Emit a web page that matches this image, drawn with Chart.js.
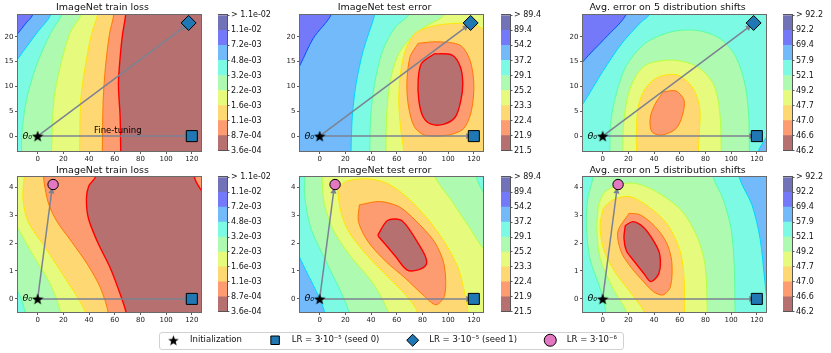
<!DOCTYPE html>
<html>
<head>
<meta charset="utf-8">
<script src="https://cdn.jsdelivr.net/npm/chart.js@4.4.1/dist/chart.umd.min.js"></script>
<style>
  html, body { margin: 0; padding: 0; background: #fff; width: 831px; height: 353px; overflow: hidden; position: relative; }
  canvas { position: absolute; }
  #legendFrame { position: absolute; left: 159px; top: 332px; width: 463px; height: 16px; border: 1px solid #d2d2d2; border-radius: 3px; }
</style>
</head>
<body>
<div id="legendFrame"></div>
<script>
// ---- axis ticks ----
const xTicks = [0, 20, 40, 60, 80, 100, 120];
const yTicksTop = [0, 5, 10, 15, 20];
const yTicksBottom = [0, 1, 2, 3, 4];
const xRange = [-15.3, 127.3];
const yRangeTop = [-3.0, 24.4];
const yRangeBottom = [-0.47, 4.37];

// ---- colorbar levels (bottom -> top) ----
const lossLevels = ['3.6e-04', '8.7e-04', '1.1e-03', '1.6e-03', '2.2e-03', '3.2e-03', '4.8e-03', '7.2e-03', '1.1e-02', '> 1.1e-02'];
const testLevels = ['21.5', '21.9', '22.4', '23.3', '25.2', '29.1', '37.2', '54.2', '89.4', '> 89.4'];
const shiftLevels = ['46.2', '46.6', '47.0', '47.7', '49.2', '52.1', '57.9', '69.4', '92.2', '> 92.2'];

// ---- marker positions ----
const initPoint = [0, 0];
const seed0Point = [120, 0];
const seed1Point = [117.5, 22.8];
const lowLrPoint = [12, 4.1];
const seed0Tip = [115.5, 0];
const seed1Tip = [113.5, 21.9];
const lowLrTip = [10.9, 3.85];

// ---- contour regions: [band, boundary line, x,y pairs] ----
const topLoss = [
  [0, -1, [-40,-8, 150,-8, 150,30, -40,30]],
  [1, 0, [65,-8, 64.7,-3, 64.2,3.9, 62.9,10.6, 64.7,17.3, 66.2,20.7, 68.5,24.4, 70,30, -40,30, -40,-8]],
  [2, 1, [50,-8, 50.3,-3, 51,7.2, 52.8,14, 56,20.7, 59.2,24.4, 61,30, -40,30, -40,-8]],
  [3, 2, [32.5,-8, 32.7,-3, 33.5,7.2, 37,14, 42,20.7, 46.6,24.4, 50,30, -40,30, -40,-8]],
  [4, 3, [10,-8, 10.8,-3, 12.6,7.2, 17.6,14, 25,20.7, 33.7,24.4, 40,30, -40,30, -40,-8]],
  [5, 4, [-13,-8, -12.5,-3, -12.3,0.5, -8.8,7.2, -1.3,14, 10,20.7, 18.6,24.4, 25,30, -40,30, -40,-8]],
  [6, 5, [-25,12, -15.3,15.6, -8,18.2, 0,21, 10.1,24.4, 15,30, -40,30]],
  [7, 6, [-25,17.5, -15.3,20.7, -9,22.8, -4,24.4, 0,30, -40,30]]
];
const topTest = [
  [6, -1, [-40,-8, 150,-8, 150,30, -40,30]],
  [7, 6, [-25,10, -15.3,14.3, -5,19.7, 8.8,24.4, 14,30, -40,30]],
  [5, 5, [24,-8, 24.4,-3, 25.4,3.9, 28.4,10.6, 34,17.3, 42.8,24.4, 47,30, 150,30, 150,-8]],
  [4, 4, [38.5,-8, 39,-3, 39.7,3.9, 42.8,10.6, 49.1,17.3, 59.1,22, 69.2,24.4, 76,30, 150,30, 150,-8]],
  [3, 3, [51,-8, 51.6,-3, 52.1,3.9, 54.6,10.6, 60.4,16, 69.2,19.3, 81.8,22, 96.9,24.4, 105,30, 150,30, 150,-8]],
  [2, 2, [66,-8, 65.4,-3, 62.9,1.9, 61.6,7.2, 62.9,12.6, 66.7,17.3, 74.2,20.7, 86.8,22.1, 104.4,22.7, 119.5,22.6, 127.3,21.6, 140,20, 150,-8]],
  [1, 1, [76.7,18.7, 91.8,19, 109.4,18.3, 117,15.3, 120,10.6, 118.2,5.2, 112,1.5, 99.4,0.2, 81.8,0.2, 73.7,1.9, 69.2,5.9, 67.9,10.6, 70.4,16]],
  [0, 0, [89.3,16.6, 103.1,16.3, 109.4,14, 111.4,10.6, 109.9,7.2, 105.7,3.9, 96.9,2.4, 86.8,2.4, 80.5,3.9, 77.2,7.2, 76.7,11.3, 79.2,14.6]]
];
const topShift = [
  [5, -1, [-40,-8, 150,-8, 150,30, -40,30]],
  [6, 5, [-25,3, -15.3,6.5, 0,13, 15,18.7, 30,23, 36,24.4, 40,30, -40,30]],
  [7, 6, [-25,11, -15.3,15, 1.8,19.7, 18.1,24.4, 24,30, -40,30]],
  [6, 5, [118,-8, 121.3,-3, 127.3,-0.3, 140,5, 150,-8]],
  [4, 4, [5,-8, 5.6,-3, 6,1.9, 9.3,7.2, 18.1,14, 33.2,18.7, 53.3,21, 73.5,21.3, 91.1,19.7, 103.6,16, 111.2,9.9, 113.7,3.9, 114.2,-3, 114.5,-8]],
  [3, 3, [15.5,-8, 15.8,-3, 16.1,1.9, 19.4,7.9, 26.2,12.3, 35.7,14.6, 55.8,15.3, 73.5,14, 86,10.6, 91,5.2, 92.3,-3, 92.5,-8]],
  [2, 2, [28,-8, 26.5,-3, 26.2,0.5, 27.7,5.9, 33.2,9.6, 43.3,11.9, 58.4,12.3, 69.7,9.9, 75.5,5.9, 75.2,0.5, 74.5,-3, 74,-8]],
  [1, 1, [47,8.9, 57.1,9.1, 63.4,7.2, 62.1,4.2, 57.1,1.5, 45.8,0.2, 38.2,0.9, 37,3.6, 40.3,6.2]]
];
const botLoss = [
  [0, -1, [-40,-1.5, 150,-1.5, 150,5.5, -40,5.5]],
  [1, 0, [119,5.5, 122,4.37, 127.3,3.9, 140,3.2, 150,5.5]],
  [1, 0, [70,-1.5, 69.2,-0.57, 65.4,0.02, 56.6,1.1, 46.5,2.05, 39.5,2.89, 38,3.6, 39.8,4.05, 45,4.37, 50,5.5, -40,5.5, -40,-1.5]],
  [2, 1, [56,-1.5, 55.3,-0.57, 49,0.38, 39,1.22, 26.4,2.05, 15.1,2.77, 8.8,3.37, 5.8,3.96, 4.5,4.44, 4,5.5, -40,5.5, -40,-1.5]],
  [3, 2, [38.5,-1.5, 37.7,-0.57, 31.4,0.02, 21.4,0.74, 6.3,1.81, -7.5,2.77, -11.5,3.6, -10.5,4.37, -9.5,5.5, -40,5.5, -40,-1.5]],
  [4, 3, [18,-1.5, 17.6,-0.45, 8.8,0.62, -3.8,1.58, -15.3,2.53, -25,3.3, -40,-1.5]],
  [5, 4, [-9.5,-1.5, -10,-0.45, -15.3,0.26, -25,0.9, -40,-1.5]]
];
const botTest = [
  [5, -1, [-40,-1.5, 150,-1.5, 150,5.5, -40,5.5]],
  [6, 5, [-25,2.5, -15.3,1.46, 3.8,-0.45, 5,-1.5, -40,-1.5]],
  [4, 4, [-11,5.5, -11.5,4.37, -11.8,3.72, -6.8,2.53, 6.3,1.22, 17.6,0.14, 23.4,-0.57, 24,-1.5, 150,-1.5, 150,3, 135,3.5, 127.3,3.84, 122,4.37, 120,5.5]],
  [3, 3, [1.3,5.5, 2,4.2, 3.8,3.37, 11.3,2.41, 25.2,1.46, 41.5,0.56, 54.1,-0.57, 55,-1.5, 150,-1.5, 150,1.2, 129.6,1.7, 117,2.53, 103.1,3.49, 90,4.37, 84.3,5.5]],
  [2, 2, [13.8,3.96, 21.4,4.23, 39,4.3, 54.1,4.11, 71.7,3.49, 91.8,2.41, 106.9,1.22, 113.2,0.14, 115.7,-0.57, 116,-1.5, 76,-1.5, 76.7,-0.57, 69.2,0.02, 54.1,0.74, 36.5,1.58, 22.6,2.41, 16.4,3.13]],
  [1, 1, [30.9,3.37, 46.5,3.49, 61.6,3.31, 74.2,2.83, 89.3,2.05, 96.9,1.22, 97.4,0.14, 90.6,-0.21, 80.5,0.14, 66.7,0.74, 51.6,1.34, 37.7,2.05, 30.2,2.77]],
  [0, 0, [45.3,2.29, 52.8,2.81, 62.9,2.83, 69.2,2.53, 76.7,1.99, 82.3,1.52, 83,1.24, 76.7,1.04, 67.9,1.04, 59.1,1.52, 51.6,1.93, 46,2.23]]
];
const botShift = [
  [5, -1, [-40,-1.5, 150,-1.5, 150,5.5, -40,5.5]],
  [6, 5, [104,5.5, 106.2,4.37, 116.2,3.37, 122.5,2.17, 126.3,0.62, 128.5,-0.2, 135,-1.5, 150,-1.5, 150,5.5]],
  [4, 4, [-7,5.5, -7.5,4.37, -11.6,3.6, -12.6,2.65, -10,1.46, -2,0.38, 3,-0.57, 3.5,-1.5, 103.5,-1.5, 103.1,-0.57, 102.4,1.22, 99.9,2.53, 93.6,3.6, 86,4.37, 83.5,5.5]],
  [3, 3, [-3.3,3.37, 1.8,3.84, 14.3,4.11, 25.7,4.14, 40.8,3.87, 60.9,3.19, 73.5,2.23, 79.7,1.22, 81.5,-0.57, 82,-1.5, 19,-1.5, 19.4,-0.57, 8,0.38, -2,1.46, -4.5,2.53]],
  [2, 2, [0.5,3.25, 8,3.55, 20.6,3.67, 35.7,3.31, 50.8,2.65, 60.4,1.7, 63.4,0.74, 63.9,-0.57, 64,-1.5, 33,-1.5, 33.2,-0.57, 23.1,0.14, 9.3,0.98, 0.5,1.81, -2,2.65]],
  [1, 1, [20.6,3.07, 29.4,3.01, 40.8,2.59, 49.6,2.03, 53.8,1.34, 52.8,0.44, 47,0.14, 39.5,0.26, 29.4,0.74, 20.6,1.22, 14.3,1.7, 11.8,2.41]],
  [0, 0, [17.6,2.63, 23.6,2.77, 31.9,2.56, 40.3,2.03, 44.5,1.58, 43.8,0.92, 37.7,0.62, 31.9,0.92, 24.4,1.36, 18.6,1.72, 16.6,2.17]]
];

// ---- styles ----
const FONT = 'DejaVu Sans';
const bandColors = ['#b77070', '#fc9c70', '#fed873', '#e6fa7e', '#aefab0', '#7cfae4', '#72baf9', '#7479f9', '#7272b8'];
const lineColors = ['#ff0000', '#ff7800', '#ffe600', '#b4ff46', '#5cffa0', '#00d4ff', '#0050ff', '#0000c8'];
const arrowColor = '#7b8292';
const colLeft = [18, 300, 583];
const cbLeft = [218, 501, 783];
const rowTop = [15, 177];
const rowH = [136, 135];
const plotW = 189;

Chart.defaults.font.family = FONT;

function makeCanvas(l, t, w, h) {
  const c = document.createElement('canvas');
  c.width = w; c.height = h;
  c.style.left = l + 'px'; c.style.top = t + 'px';
  c.style.width = w + 'px'; c.style.height = h + 'px';
  document.body.appendChild(c);
  return c;
}

// filled black star, like the matplotlib '*' marker
function starImage(size) {
  const c = document.createElement('canvas');
  c.width = c.height = size;
  const g = c.getContext('2d');
  const R = size / 2, r = R * 0.42;
  g.beginPath();
  for (let i = 0; i < 10; i++) {
    const a = -Math.PI / 2 + i * Math.PI / 5;
    const rr = i % 2 ? r : R;
    g.lineTo(R + rr * Math.cos(a), R + 0.6 + rr * Math.sin(a));
  }
  g.closePath();
  g.fillStyle = '#000';
  g.fill();
  return c;
}

function arrowAngle(c) {
  const d = c.dataset.data, xs = c.chart.scales.x, ys = c.chart.scales.y;
  const dx = xs.getPixelForValue(d[1].x) - xs.getPixelForValue(d[0].x);
  const dy = ys.getPixelForValue(d[1].y) - ys.getPixelForValue(d[0].y);
  return Math.atan2(dx, -dy) * 180 / Math.PI;
}

// text labels and the axes frame
const notesPlugin = {
  id: 'notes',
  afterDatasetsDraw(chart, args, opts) {
    const { ctx } = chart;
    const xs = chart.scales.x, ys = chart.scales.y;
    (opts.items || []).forEach(it => {
      ctx.save();
      ctx.font = it.font;
      ctx.fillStyle = '#000';
      ctx.textAlign = it.align;
      ctx.textBaseline = 'middle';
      ctx.fillText(it.text, xs.getPixelForValue(it.x), ys.getPixelForValue(it.y));
      ctx.restore();
    });
  },
  afterDraw(chart, args, opts) {
    const { ctx, chartArea: a } = chart;
    ctx.save();
    ctx.strokeStyle = opts.frame || '#666';
    ctx.lineWidth = 1;
    ctx.strokeRect(Math.round(a.left) - 0.5, Math.round(a.top) - 0.5, Math.round(a.right - a.left) + 1, Math.round(a.bottom - a.top) + 1);
    ctx.restore();
  }
};

const starPanel = starImage(12);
const starLegend = starImage(11);

function drawPanel(title, contours, row, col, levels, notes) {
  const top = rowTop[row], h = rowH[row], left = colLeft[col];
  const cv = makeCanvas(left - 20, top - 15, 20 + plotW + 3, 15 + h + 13);
  const yr = row === 0 ? yRangeTop : yRangeBottom;
  const yt = row === 0 ? yTicksTop : yTicksBottom;
  const sets = [];

  contours.forEach(([band, line, pts]) => {
    const data = [];
    for (let i = 0; i < pts.length; i += 2) data.push({ x: pts[i], y: pts[i + 1] });
    data.push({ x: pts[0], y: pts[1] });
    sets.push({
      data, showLine: true, fill: 'shape', tension: 0.3,
      backgroundColor: bandColors[band],
      borderColor: line < 0 ? 'rgba(0,0,0,0)' : lineColors[line],
      borderWidth: line < 0 ? 0 : (line === 0 ? 1.4 : 1),
      pointRadius: 0
    });
  });

  const tips = row === 0 ? [seed0Tip, seed1Tip] : [seed0Tip, lowLrTip];
  tips.forEach(t => {
    sets.push({
      data: [{ x: initPoint[0], y: initPoint[1] }, { x: t[0], y: t[1] }],
      showLine: true, borderColor: arrowColor, borderWidth: 1.5,
      pointRadius: [0, 3.6], pointStyle: 'triangle', pointRotation: arrowAngle,
      pointBackgroundColor: arrowColor, pointBorderWidth: 0
    });
  });

  sets.push({ data: [{ x: seed0Point[0], y: seed0Point[1] }], pointStyle: 'rect', pointRadius: 7.8,
    backgroundColor: '#1f77b4', borderColor: '#000', borderWidth: 1 });
  if (row === 0) {
    sets.push({ data: [{ x: seed1Point[0], y: seed1Point[1] }], pointStyle: 'rectRot', pointRadius: 7.5,
      backgroundColor: '#1f77b4', borderColor: '#000', borderWidth: 1 });
  } else {
    sets.push({ data: [{ x: lowLrPoint[0], y: lowLrPoint[1] }], pointStyle: 'circle', pointRadius: 5.2,
      backgroundColor: '#e377c2', borderColor: '#000', borderWidth: 1 });
  }
  sets.push({ data: [{ x: initPoint[0], y: initPoint[1] }], pointStyle: starPanel, pointRadius: 6 });

  // Chart.js draws dataset 0 on top, so reverse the painting order
  sets.reverse();

  const tickFont = { family: FONT, size: 7 };
  new Chart(cv, {
    type: 'scatter',
    data: { datasets: sets },
    plugins: [notesPlugin],
    options: {
      responsive: false, animation: false, events: [], devicePixelRatio: 1,
      layout: { padding: { left: 0, right: 3, top: 0, bottom: 0 } },
      elements: { line: { capBezierPoints: false } },
      plugins: {
        legend: { display: false },
        tooltip: { enabled: false },
        title: {
          display: true, text: title, color: '#111',
          font: { family: FONT, size: 9.5, weight: 'normal' },
          padding: row === 0 ? { top: 1.5, bottom: 2.1 } : { top: 2.6, bottom: 1.0 }
        },
        notes: { items: notes, frame: '#6a6a6a' }
      },
      scales: {
        x: {
          type: 'linear', min: xRange[0], max: xRange[1],
          afterBuildTicks: s => { s.ticks = xTicks.map(v => ({ value: v })); },
          afterFit: s => { s.height = 13; },
          ticks: { font: tickFont, color: '#222', padding: 1, maxRotation: 0, autoSkip: false },
          grid: { drawOnChartArea: false, tickLength: 3, tickColor: '#333', tickWidth: 0.8 },
          border: { display: false }
        },
        y: {
          type: 'linear', min: yr[0], max: yr[1],
          afterBuildTicks: s => { s.ticks = yt.map(v => ({ value: v })); },
          afterFit: s => { s.width = 20; },
          ticks: { font: tickFont, color: '#222', padding: 1.5, autoSkip: false },
          grid: { drawOnChartArea: false, tickLength: 3, tickColor: '#333', tickWidth: 0.8 },
          border: { display: false }
        }
      }
    }
  });

  // colorbar
  const cw = 60;
  const cb = makeCanvas(cbLeft[col], top - 6, cw, h + 12);
  new Chart(cb, {
    type: 'bar',
    data: {
      labels: [''],
      datasets: bandColors.map(c => ({ data: [1], backgroundColor: c, borderWidth: 0, barPercentage: 1, categoryPercentage: 1 }))
    },
    plugins: [notesPlugin],
    options: {
      responsive: false, animation: false, events: [], devicePixelRatio: 1,
      layout: { padding: { top: 6, bottom: 6, left: 0, right: 0 } },
      plugins: { legend: { display: false }, tooltip: { enabled: false }, notes: { frame: '#555' } },
      scales: {
        x: { display: false, stacked: true },
        y: {
          stacked: true, position: 'right', min: 0, max: 9,
          afterBuildTicks: s => { s.ticks = levels.map((_, i) => ({ value: i })); },
          afterFit: s => { s.width = cw - 9; },
          ticks: { callback: v => levels[v], font: { family: FONT, size: 8 }, color: '#111', padding: 1.5, autoSkip: false },
          grid: { drawOnChartArea: false, tickLength: 2.5, tickColor: '#333', tickWidth: 0.8 },
          border: { display: false }
        }
      }
    }
  });
}

const thetaNote = { text: 'θ₀', x: -4.4, y: 0, font: 'italic 9.5px DejaVu Sans', align: 'right' };
const fineNote = { text: 'Fine-tuning', x: 62.4, y: 1.0, font: '8.5px DejaVu Sans', align: 'center' };

drawPanel('ImageNet train loss', topLoss, 0, 0, lossLevels, [thetaNote, fineNote]);
drawPanel('ImageNet test error', topTest, 0, 1, testLevels, [thetaNote]);
drawPanel('Avg. error on 5 distribution shifts', topShift, 0, 2, shiftLevels, [thetaNote]);
drawPanel('ImageNet train loss', botLoss, 1, 0, lossLevels, [thetaNote]);
drawPanel('ImageNet test error', botTest, 1, 1, testLevels, [thetaNote]);
drawPanel('Avg. error on 5 distribution shifts', botShift, 1, 2, shiftLevels, [thetaNote]);

// legend row: the canvas is tall and wide so the legend block keeps one line;
// only the item row (text centre near y = 340) falls inside the frame
const legendPad = 29;
const lg = makeCanvas(13, Math.round(340.7 - legendPad - 4.25), 760, 110);
new Chart(lg, {
  type: 'scatter',
  data: {
    datasets: [
      { label: '   Initialization', data: [], pointStyle: starLegend, backgroundColor: '#000', borderColor: '#000' },
      { label: '   LR = 3·10⁻⁵ (seed 0)', data: [], pointStyle: 'rect', backgroundColor: '#1f77b4', borderColor: '#000', borderWidth: 1 },
      { label: '   LR = 3·10⁻⁵ (seed 1)', data: [], pointStyle: 'rectRot', backgroundColor: '#1f77b4', borderColor: '#000', borderWidth: 1 },
      { label: '   LR = 3·10⁻⁶', data: [], pointStyle: 'circle', backgroundColor: '#e377c2', borderColor: '#000', borderWidth: 1 }
    ]
  },
  options: {
    responsive: false, animation: false, events: [], devicePixelRatio: 1,
    scales: { x: { display: false }, y: { display: false } },
    plugins: {
      tooltip: { enabled: false },
      legend: {
        display: true, position: 'top',
        labels: { usePointStyle: true, padding: legendPad, color: '#111', font: { family: FONT, size: 8.5 } }
      }
    }
  }
});
</script>
</body>
</html>
